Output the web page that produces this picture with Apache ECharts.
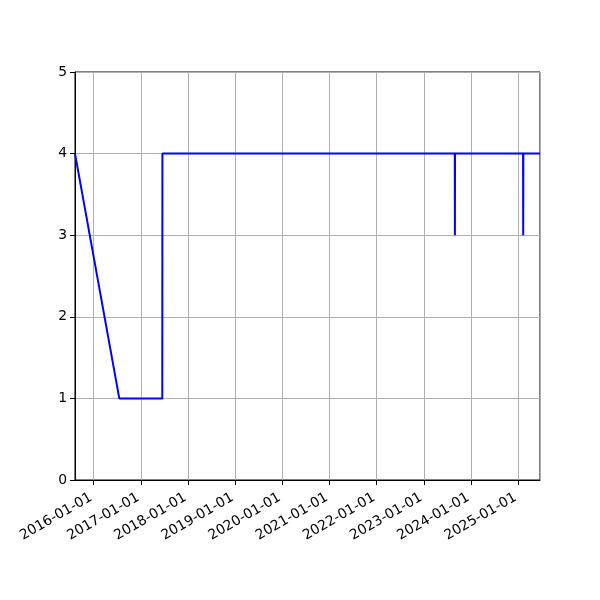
<!DOCTYPE html>
<html>
<head>
<meta charset="utf-8">
<script src="https://cdn.jsdelivr.net/npm/echarts@6/dist/echarts.min.js"></script>
<style>html,body{margin:0;padding:0;background:#fff}#c{width:600px;height:600px}</style>
</head>
<body>
<div id="c"></div>
<script>
const dates = ['2015-08-10','2016-07-18','2017-06-16','2017-06-17','2023-08-29','2023-08-30','2023-08-31','2025-02-08','2025-02-09','2025-02-10','2025-06-19'];
const values = [4, 1, 1, 4, 4, 3, 4, 4, 3, 4, 4];
const xMin = '2015-08-10';
const xMax = '2025-06-19';
const yTicks = [0, 1, 2, 3, 4, 5];

const chart = echarts.init(document.getElementById('c'), null, {renderer: 'canvas'});
const data = dates.map((d, i) => [d, values[i]]);
const font = 'DejaVu Sans';
chart.setOption({
  animation: false,
  grid: {left: 75, right: 60, top: 72, bottom: 120, show: true, borderColor: '#000', borderWidth: 1, backgroundColor: 'transparent'},
  xAxis: {
    type: 'time',
    min: xMin, max: xMax,
    minInterval: 365 * 24 * 3600 * 1000,
    maxInterval: 366 * 24 * 3600 * 1000,
    axisLine: {show: true, lineStyle: {color: '#000', width: 1}},
    axisTick: {show: true, length: 5, lineStyle: {color: '#000'}},
    splitLine: {show: true, lineStyle: {color: '#b0b0b0', width: 1}},
    axisLabel: {
      rotate: 30, color: '#000', fontFamily: font, fontSize: 13.9, margin: 15,
      padding: [0, 3, 0, 0],
      showMinLabel: false, showMaxLabel: false,
      formatter: function (v) { return echarts.time.format(v, '{yyyy}-{MM}-{dd}', false); }
    }
  },
  yAxis: {
    type: 'value', min: yTicks[0], max: yTicks[yTicks.length - 1], interval: 1,
    axisLine: {show: true, lineStyle: {color: '#000', width: 1}},
    axisTick: {show: true, length: 5, lineStyle: {color: '#000'}},
    splitLine: {show: true, lineStyle: {color: '#b0b0b0', width: 1}},
    axisLabel: {color: '#000', fontFamily: font, fontSize: 13.9, margin: 8}
  },
  series: [{
    type: 'line', data: data, showSymbol: false, symbol: 'none',
    lineStyle: {color: '#0000ff', width: 2}, itemStyle: {color: '#0000ff'}
  }]
});
</script>
</body>
</html>
